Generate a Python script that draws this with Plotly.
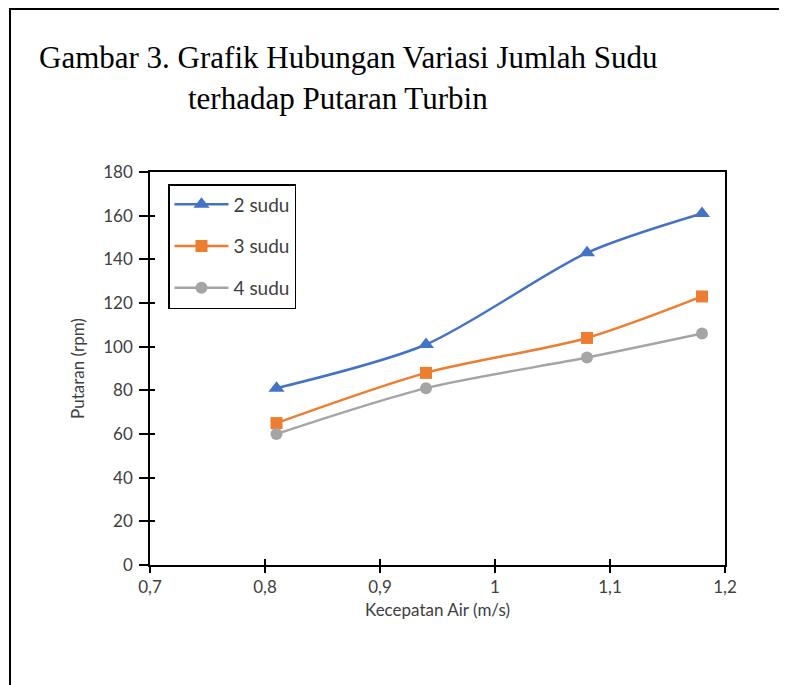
import plotly.graph_objects as go

# ---- data ----
kecepatan = [0.81, 0.94, 1.08, 1.18]
sudu2 = [81, 101, 143, 161]
sudu3 = [65, 88, 104, 123]
sudu4 = [60, 81, 95, 106]
series_names = ["2 sudu", "3 sudu", "4 sudu"]
x_tickvals = [0.7, 0.8, 0.9, 1.0, 1.1, 1.2]
x_ticktext = ["0,7", "0,8", "0,9", "1", "1,1", "1,2"]
y_tickvals = [0, 20, 40, 60, 80, 100, 120, 140, 160, 180]
title_line1 = "Gambar 3. Grafik Hubungan Variasi Jumlah Sudu"
title_line2 = "terhadap Putaran Turbin"
x_title = "Kecepatan Air (m/s)"
y_title = "Putaran (rpm)"

OFF = 8  # page body margin
W, H = 787 - OFF, 685 - OFF
# plot area in screen pixels
SL, SR, ST, SB = 150, 725, 172, 565
L, R, T, B = SL - OFF, SR - OFF, ST - OFF, SB - OFF


def px(x):
    return (x - SL) / (SR - SL)


def py(y):
    return (SB - y) / (SB - ST)


colors = ["#4472C4", "#ED7D31", "#A5A5A5"]
symbols = ["triangle-up", "square", "circle"]
sizes = [14, 12, 12]

fig = go.Figure()
for i, ys in enumerate([sudu2, sudu3, sudu4]):
    fig.add_trace(go.Scatter(
        x=kecepatan, y=ys, name=series_names[i], mode="lines+markers",
        line=dict(color=colors[i], width=2.5, shape="spline", smoothing=0.8),
        marker=dict(symbol=symbols[i], size=sizes[i], color=colors[i]),
        legendgroup=series_names[i],
    ))
# empty trace so the overlay (cross-tick) axes are drawn
fig.add_trace(go.Scatter(x=[], y=[], xaxis="x2", yaxis="y2",
                         showlegend=False, hoverinfo="skip"))

tickfont = dict(family="Lato, Carlito, sans-serif", size=17, color="#404040")
titlefont = dict(family="Lato, Carlito, sans-serif", size=17, color="#404040")

fig.update_layout(
    width=W, height=H,
    margin=dict(l=L, r=W - R, t=T, b=H - B, pad=0),
    paper_bgcolor="white", plot_bgcolor="white",
    showlegend=True,
    legend=dict(
        x=px(168), y=py(184), xanchor="left", yanchor="top",
        bordercolor="black", borderwidth=1.5, bgcolor="white",
        font=dict(family="Lato, Carlito, sans-serif", size=19, color="#404040"),
        traceorder="grouped", tracegroupgap=14, itemwidth=54,
    ),
    xaxis=dict(
        range=[0.7, 1.2], tickvals=x_tickvals, ticktext=x_ticktext,
        showgrid=False, zeroline=False, showline=True, linecolor="black",
        linewidth=1.5, mirror=True, ticks="outside", ticklen=6,
        tickcolor="black", tickwidth=1.5, tickfont=tickfont,
        title=dict(text=x_title, font=titlefont, standoff=8),
    ),
    yaxis=dict(
        range=[0, 180], tickvals=y_tickvals,
        showgrid=False, zeroline=False, showline=True, linecolor="black",
        linewidth=1.5, mirror=True, ticks="outside", ticklen=9,
        tickcolor="black", tickwidth=1.5, tickfont=tickfont,
        ticklabelstandoff=3,
        title=dict(text=y_title, font=titlefont, standoff=14),
    ),
    xaxis2=dict(
        overlaying="x", range=[0.7, 1.2], tickvals=x_tickvals,
        showticklabels=False, showgrid=False, zeroline=False,
        ticks="inside", ticklen=6, tickcolor="black", tickwidth=1.5,
        side="bottom", anchor="y2",
    ),
    yaxis2=dict(
        overlaying="y", range=[0, 180], tickvals=y_tickvals,
        showticklabels=False, showgrid=False, zeroline=False,
        ticks="inside", ticklen=5, tickcolor="black", tickwidth=1.5,
        side="left", anchor="x2",
    ),
    annotations=[
        dict(text=title_line1, xref="paper", yref="paper", x=px(37), y=py(58),
             xanchor="left", yanchor="middle", showarrow=False,
             font=dict(family="Liberation Serif, Times New Roman, serif", size=31, color="black")),
        dict(text=title_line2, xref="paper", yref="paper", x=px(186), y=py(99),
             xanchor="left", yanchor="middle", showarrow=False,
             font=dict(family="Liberation Serif, Times New Roman, serif", size=31, color="black")),
    ],
    shapes=[
        dict(type="rect", xref="paper", yref="paper",
             x0=px(10), x1=px(830), y0=py(740), y1=py(9),
             line=dict(color="black", width=2), layer="above"),
    ],
)

fig.write_html("out.html")
